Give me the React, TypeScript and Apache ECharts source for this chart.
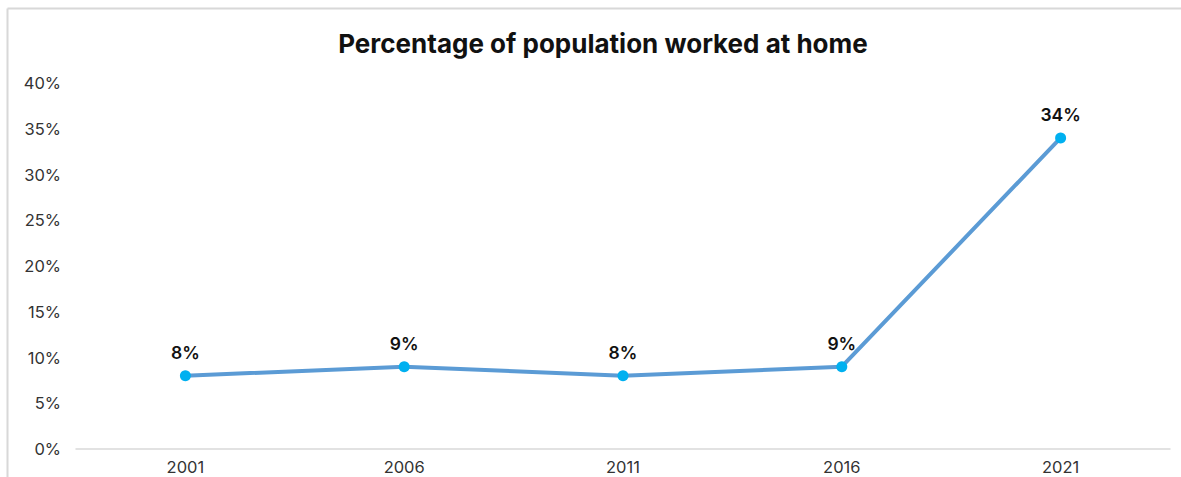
import React, { useEffect, useRef } from "react";
import * as echarts from "echarts";

const title = "Percentage of population worked at home";
const years = ["2001", "2006", "2011", "2016", "2021"];
const values = [8, 9, 8, 9, 34];
const yTicks = [0, 5, 10, 15, 20, 25, 30, 35, 40];

export default function App() {
  const ref = useRef<HTMLDivElement>(null);
  useEffect(() => {
    document.body.style.margin = "0";
    const chart = echarts.init(ref.current!, null, { renderer: "svg" });
    const font = "Inter, 'Noto Sans', sans-serif";
    chart.setOption({
      animation: false,
      backgroundColor: "#ffffff",
      textStyle: { fontFamily: font },
      title: {
        text: title,
        left: 598,
        textAlign: "center",
        top: 25,
        textStyle: { fontSize: 26, fontWeight: "bold", color: "#111111", fontFamily: font },
      },
      graphic: [
        { type: "line", shape: { x1: 7.5, y1: 8.5, x2: 1181, y2: 8.5 }, style: { stroke: "#d8d8d8", lineWidth: 2 } },
        { type: "line", shape: { x1: 7.5, y1: 8.5, x2: 7.5, y2: 477 }, style: { stroke: "#d8d8d8", lineWidth: 2 } },
      ],
      grid: { left: 76, right: 11, top: 83, bottom: 28, containLabel: false },
      xAxis: {
        type: "category",
        data: years,
        boundaryGap: true,
        axisLine: { show: true, lineStyle: { color: "#d9d9d9", width: 1.5 } },
        axisTick: { show: false },
        axisLabel: { color: "#333333", fontSize: 16.5, margin: 9, fontFamily: font },
      },
      yAxis: {
        type: "value",
        min: yTicks[0],
        max: yTicks[yTicks.length - 1],
        interval: 5,
        splitLine: { show: false },
        axisLine: { show: false },
        axisTick: { show: false },
        axisLabel: { color: "#333333", fontSize: 16.5, margin: 15, formatter: "{value}%", fontFamily: font },
      },
      series: [
        {
          type: "line",
          data: values,
          symbol: "circle",
          symbolSize: 11,
          lineStyle: { color: "#5b9bd5", width: 4 },
          itemStyle: { color: "#00b0f0" },
          label: {
            show: true,
            position: "top",
            distance: 9,
            formatter: "{c}%",
            color: "#111111",
            fontSize: 17.5,
            fontWeight: 600,
            fontFamily: font,
          },
        },
      ],
    });
    return () => chart.dispose();
  }, []);
  return <div ref={ref} style={{ width: 1181, height: 477 }} />;
}
